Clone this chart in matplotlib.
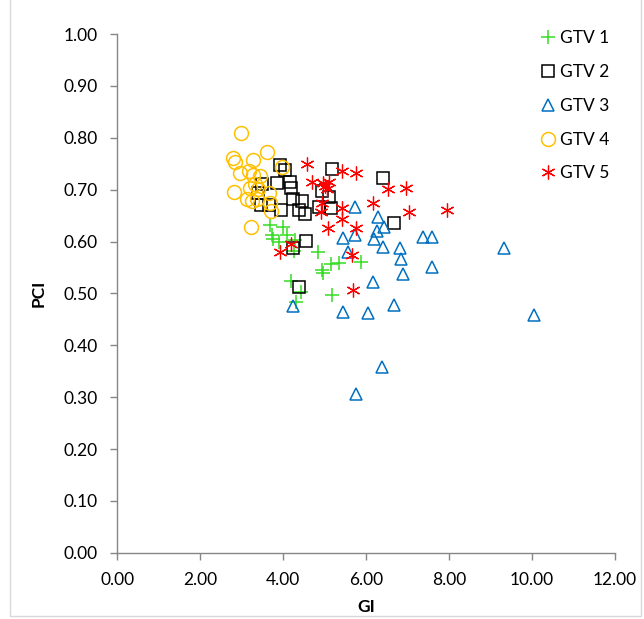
import matplotlib
matplotlib.use("Agg")
import matplotlib.pyplot as plt
from matplotlib.ticker import MultipleLocator, FormatStrFormatter

plt.rcParams['font.family'] = ['Lato', 'DejaVu Sans']

# GTV 1 (green plus)
gtv1_gi = [3.69, 4.00, 3.73, 3.76, 3.90, 4.10, 4.29, 4.27, 4.84, 4.94, 4.96,
           5.16, 5.35, 5.88, 4.19, 4.43, 5.18, 4.31]
gtv1_pci = [0.632, 0.628, 0.612, 0.604, 0.599, 0.612, 0.603, 0.582, 0.579, 0.545,
            0.539, 0.556, 0.558, 0.560, 0.524, 0.503, 0.497, 0.483]

# GTV 2 (black square)
gtv2_gi = [3.93, 4.05, 4.17, 4.19, 3.86, 3.49, 3.40, 3.47, 3.66, 4.24, 4.46, 4.39,
           4.53, 3.95, 5.18, 4.94, 5.11, 4.87, 5.16, 6.41, 6.67, 4.55, 4.24, 4.39]
gtv2_pci = [0.747, 0.738, 0.715, 0.703, 0.713, 0.711, 0.693, 0.670, 0.670, 0.682,
            0.678, 0.660, 0.653, 0.660, 0.740, 0.697, 0.685, 0.666, 0.664, 0.722,
            0.636, 0.601, 0.587, 0.512]

# GTV 3 (blue triangle)
gtv3_gi = [5.73, 6.29, 6.43, 6.27, 6.19, 5.45, 5.73, 5.57, 6.41, 6.82, 6.84, 6.89,
           7.37, 7.59, 7.59, 9.33, 6.17, 6.67, 4.24, 5.45, 6.05, 10.05, 6.39, 5.76]
gtv3_pci = [0.666, 0.647, 0.628, 0.620, 0.605, 0.607, 0.613, 0.580, 0.589, 0.587,
            0.566, 0.537, 0.609, 0.609, 0.551, 0.587, 0.522, 0.477, 0.476, 0.464,
            0.462, 0.458, 0.358, 0.306]

# GTV 4 (orange circle)
gtv4_gi = [2.99, 2.80, 2.84, 3.28, 3.61, 2.96, 3.18, 3.28, 3.45, 3.33, 2.82, 3.20,
           3.40, 3.66, 3.98, 3.13, 3.25, 3.37, 3.69, 3.71, 3.23]
gtv4_pci = [0.809, 0.761, 0.753, 0.757, 0.772, 0.733, 0.736, 0.728, 0.726, 0.711,
            0.695, 0.703, 0.701, 0.693, 0.743, 0.682, 0.678, 0.682, 0.674, 0.659,
            0.628]

# GTV 5 (red asterisk)
gtv5_gi = [4.58, 4.70, 4.96, 5.11, 5.01, 5.06, 5.42, 5.76, 4.94, 4.92, 5.42, 5.42,
           5.08, 5.76, 6.17, 6.53, 6.96, 7.04, 7.95, 4.19, 3.93, 5.66, 5.69]
gtv5_pci = [0.750, 0.715, 0.713, 0.715, 0.707, 0.701, 0.736, 0.732, 0.674, 0.657,
            0.664, 0.643, 0.626, 0.626, 0.674, 0.701, 0.703, 0.657, 0.660, 0.595,
            0.579, 0.574, 0.506]

fig = plt.figure(figsize=(6.44, 6.19), dpi=100)
ax = fig.add_axes([0.182, 0.107, 0.773, 0.838])

ax.plot(gtv1_gi, gtv1_pci, ls='none', marker='+', ms=10, mew=1.1,
        color='#33DD22', label='GTV 1')
ax.plot(gtv2_gi, gtv2_pci, ls='none', marker='s', ms=8.5, mew=1.1,
        mfc='none', mec='#000000', label='GTV 2')
ax.plot(gtv3_gi, gtv3_pci, ls='none', marker='^', ms=9, mew=1.1,
        mfc='none', mec='#0070C0', label='GTV 3')
ax.plot(gtv4_gi, gtv4_pci, ls='none', marker='o', ms=10, mew=1.1,
        mfc='none', mec='#FFC000', label='GTV 4')
ax.plot(gtv5_gi, gtv5_pci, ls='none', marker=(6, 2, 0), ms=10, mew=0.9,
        color='#FF0000', label='GTV 5')

ax.set_xlim(0, 12)
ax.set_ylim(0, 1)
ax.xaxis.set_major_locator(MultipleLocator(2))
ax.yaxis.set_major_locator(MultipleLocator(0.1))
ax.xaxis.set_major_formatter(FormatStrFormatter('%.2f'))
ax.yaxis.set_major_formatter(FormatStrFormatter('%.2f'))

for s in ['top', 'right']:
    ax.spines[s].set_visible(False)
for s in ['left', 'bottom']:
    ax.spines[s].set_color('#868686')
    ax.spines[s].set_linewidth(1.0)
ax.tick_params(direction='out', length=5, width=1, color='#868686',
               labelsize=12.5)
ax.tick_params(axis='y', pad=9)
ax.tick_params(axis='x', pad=9)

ax.set_xlabel('GI', fontsize=12.5, fontweight='bold', labelpad=8)
ax.set_ylabel('PCI', fontsize=12.5, fontweight='bold', labelpad=12)

ax.legend(loc='upper right', bbox_to_anchor=(1.02, 1.037), frameon=False,
          fontsize=12.5, handletextpad=0.2, labelspacing=1.02, handlelength=1.0)

# outer chart border
fig.patches.append(plt.Rectangle((0.015, 0.005), 0.98, 1.2, transform=fig.transFigure,
                                 fill=False, edgecolor='#D9D9D9', lw=1))

fig.savefig('out.png', dpi=100)
